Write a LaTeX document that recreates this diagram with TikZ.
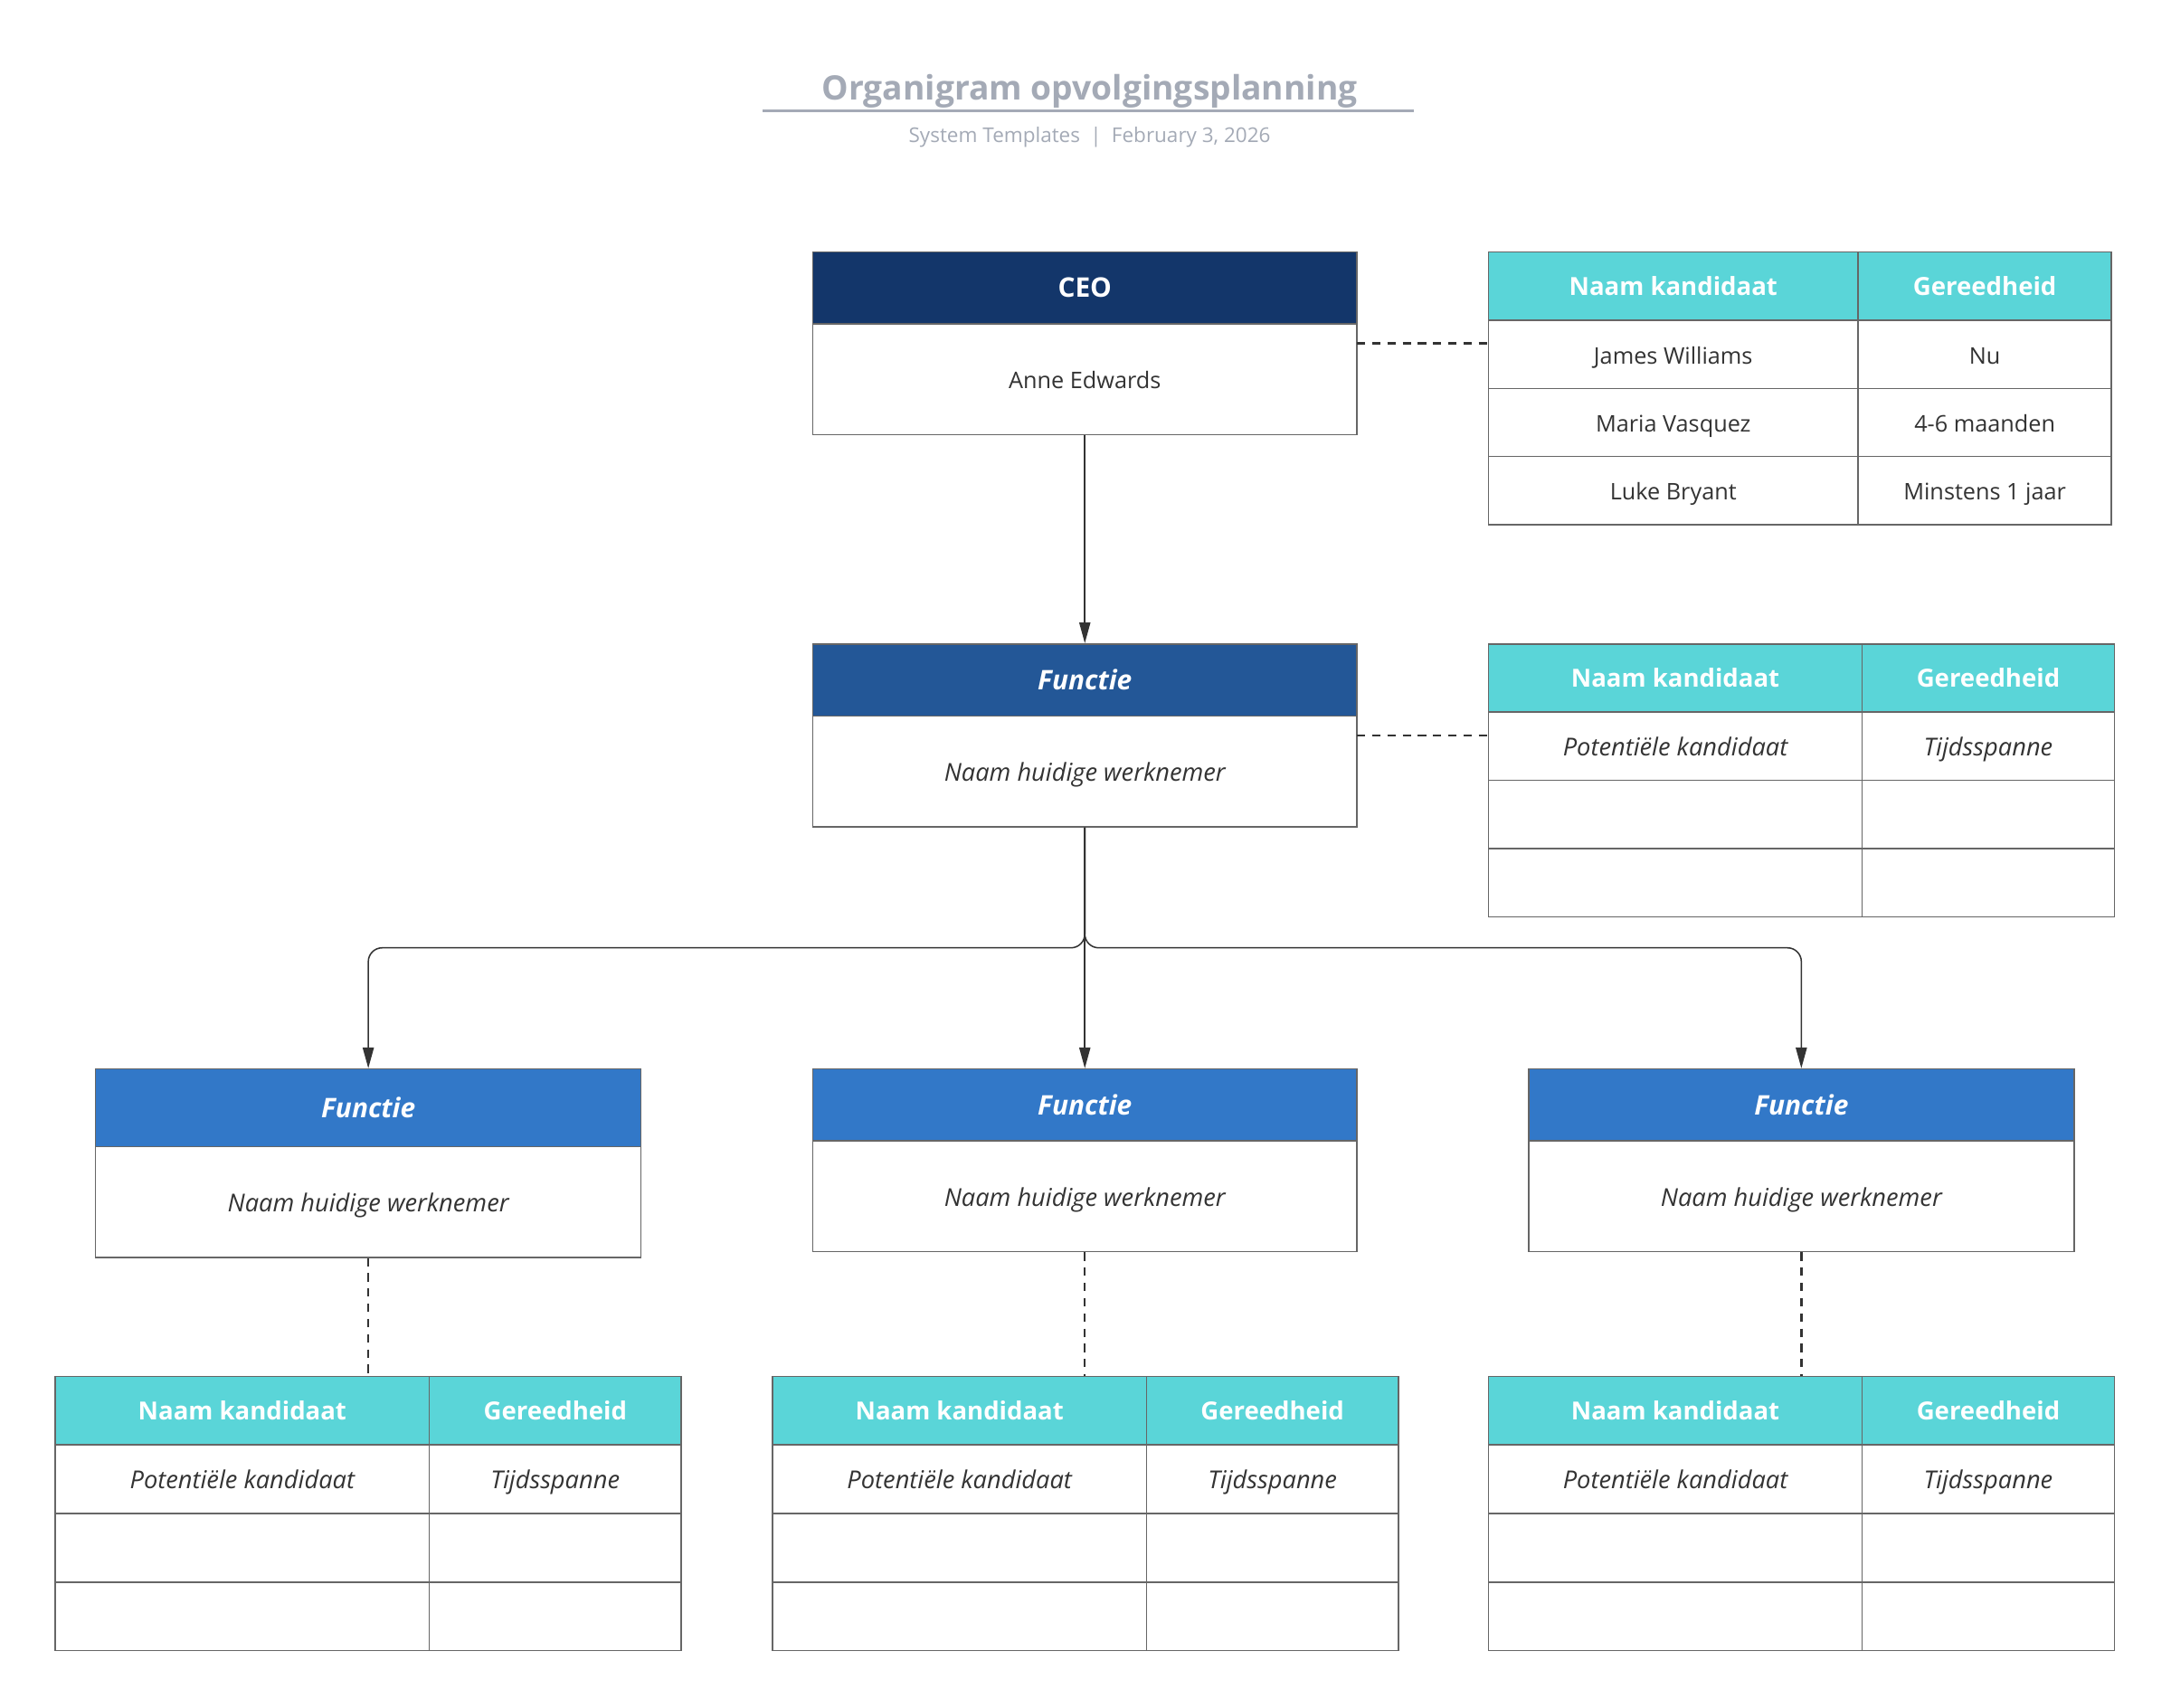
\documentclass[tikz,border=0pt]{standalone}
\usepackage{fontspec}
\setmainfont{Open Sans}
\usetikzlibrary{arrows.meta}
\definecolor{ceoblue}{HTML}{13366A}
\definecolor{midblue}{HTML}{235797}
\definecolor{lowblue}{HTML}{3278C8}
\definecolor{tealhdr}{HTML}{5AD5D8}
\definecolor{gridgray}{HTML}{666666}
\definecolor{ink}{HTML}{333333}
\definecolor{titlegray}{HTML}{A4AAB6}

\newcommand{\orgbox}[9]{%
  \pgfmathsetmacro{\obcx}{(#2+#3)/2}%
  \pgfmathsetmacro{\obw}{#3-#2}%
  \pgfmathsetmacro{\obhy}{(#4+#5)/2}%
  \pgfmathsetmacro{\obhh}{#5-#4}%
  \pgfmathsetmacro{\obby}{(#5+#6)/2}%
  \pgfmathsetmacro{\obbh}{#6-#5}%
  \pgfmathsetmacro{\obmy}{(#4+#6)/2}%
  \node[hdrbox, fill=#7, minimum width=\obw pt, minimum height=\obhh pt] (#1h) at (\obcx,\obhy) {#8};
  \node[bodybox, minimum width=\obw pt, minimum height=\obbh pt] (#1b) at (\obcx,\obby) {#9};
  \coordinate (#1e) at (#3,\obmy);
}

\newcommand{\candtable}[8]{%
  \pgfmathsetmacro{\cta}{(#2+#3)/2}%
  \pgfmathsetmacro{\ctb}{(#3+#4)/2}%
  \pgfmathsetmacro{\ctwa}{#3-#2}%
  \pgfmathsetmacro{\ctwb}{#4-#3}%
  \pgfmathsetmacro{\cthy}{#5+#6/2}%
  \node[thdr, minimum width=\ctwa pt, minimum height=#6 pt] (#1-ha) at (\cta,\cthy) {Naam kandidaat};
  \node[thdr, minimum width=\ctwb pt, minimum height=#6 pt] (#1-hb) at (\ctb,\cthy) {Gereedheid};
  \foreach \i/\a/\b in {#8} {
    \node[tcell, #7, minimum width=\ctwa pt, minimum height=#6 pt] (#1-\i a) at (\cta,{#5+(\i+0.5)*#6}) {\a};
    \node[tcell, #7, minimum width=\ctwb pt, minimum height=#6 pt] (#1-\i b) at (\ctb,{#5+(\i+0.5)*#6}) {\b};
  }
}

\begin{document}
\begin{tikzpicture}[x=1pt,y=-1pt,
  every node/.style={text height=1.5em, text depth=0.12em},
  hdrbox/.style={draw=gridgray, line width=1pt, inner sep=0pt, text=white,
    font=\fontsize{19.5}{23}\selectfont},
  bodybox/.style={draw=gridgray, line width=1pt, fill=white, inner sep=0pt, text=ink,
    font=\fontsize{16.5}{19}\selectfont},
  thdr/.style={draw=gridgray, line width=1pt, fill=tealhdr, inner sep=0pt, text=white,
    font=\fontsize{18}{21}\selectfont\bfseries},
  tcell/.style={draw=gridgray, line width=1pt, fill=white, inner sep=0pt, text=ink},
  cellrm/.style={font=\fontsize{16.5}{19}\selectfont},
  cellit/.style={font=\fontsize{17.8}{21}\selectfont\itshape},
  conn/.style={draw=ink, line width=1pt, -{Triangle[length=15pt,width=8pt]}},
  dashc/.style={draw=ink, line width=1.6pt, dash pattern=on 6pt off 5pt},
]
\useasboundingbox[fill=white] (0,0) rectangle (1568,1233);

% title
\node[font=\fontsize{24.3}{29}\selectfont\bfseries, text=titlegray, text height=0.72em, text depth=0.2em] (title) at (787,69.5) {Organigram opvolgingsplanning};
\draw[titlegray, line width=1.6pt] (551,80) coordinate (ula) -- (1021,80) coordinate (ulb);
\node[font=\fontsize{14.7}{17}\selectfont, text=titlegray, text height=0.72em, text depth=0.2em] (subtitle) at (787,100.5) {System Templates\enspace\textbar\enspace February 3, 2026};

% org boxes
\orgbox{ceo}{587}{980}{182}{234}{314}{ceoblue}{\bfseries CEO}{Anne Edwards}
\orgbox{ft}{587}{980}{465}{517}{597}{midblue}{\bfseries\itshape Functie}{\fontsize{17.8}{21}\selectfont\itshape Naam huidige werknemer}
\orgbox{fa}{69}{463}{772}{828}{908}{lowblue}{\bfseries\itshape Functie}{\fontsize{17.8}{21}\selectfont\itshape Naam huidige werknemer}
\orgbox{fb}{587}{980}{772}{824}{904}{lowblue}{\bfseries\itshape Functie}{\fontsize{17.8}{21}\selectfont\itshape Naam huidige werknemer}
\orgbox{fc}{1104}{1498}{772}{824}{904}{lowblue}{\bfseries\itshape Functie}{\fontsize{17.8}{21}\selectfont\itshape Naam huidige werknemer}

% candidate tables
\candtable{ta}{1075}{1342}{1525}{182}{49.25}{cellrm}{1/James Williams/Nu,2/Maria Vasquez/4-6 maanden,3/Luke Bryant/Minstens 1 jaar}
\candtable{tb}{1075}{1345}{1527}{465}{49.25}{cellit}{1/Potentiële kandidaat/Tijdsspanne,2//,3//}
\candtable{tc}{40}{310}{492}{994}{49.5}{cellit}{1/Potentiële kandidaat/Tijdsspanne,2//,3//}
\candtable{td}{558}{828}{1010}{994}{49.5}{cellit}{1/Potentiële kandidaat/Tijdsspanne,2//,3//}
\candtable{te}{1075}{1345}{1527}{994}{49.5}{cellit}{1/Potentiële kandidaat/Tijdsspanne,2//,3//}

% connectors
\draw[conn] (ceob.south) -- (fth.north);
\draw[conn, rounded corners=10pt] (ftb.south) -- ++(0,87) -| (fah.north);
\draw[conn, rounded corners=10pt] (ftb.south) -- ++(0,87) -| (fch.north);
\draw[conn] (ftb.south) -- (fbh.north);

% dashed links
\draw[dashc] (ceoe) -- (ceoe -| ta-ha.west);
\draw[dashc] (fte) -- (fte -| tb-ha.west);
\draw[dashc] (fab.south) -- (fab.south |- tc-ha.north);
\draw[dashc] (fbb.south) -- (fbb.south |- td-ha.north);
\draw[dashc] (fcb.south) -- (fcb.south |- te-ha.north);
\end{tikzpicture}
\end{document}
